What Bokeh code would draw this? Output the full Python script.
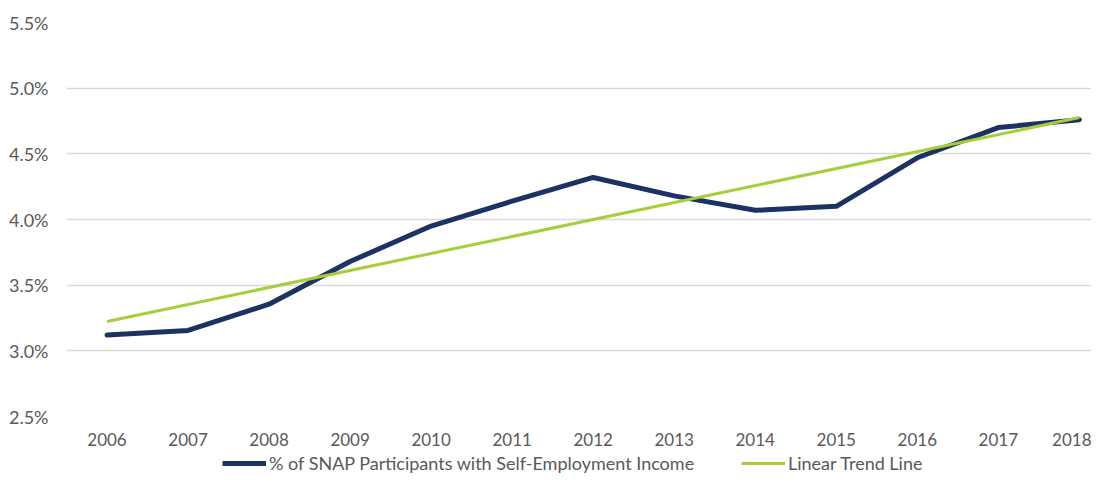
from bokeh.plotting import figure
from bokeh.layouts import column
from bokeh.models import Range1d, FixedTicker, Legend, LegendItem, PrintfTickFormatter
from bokeh.embed import file_html
from bokeh.resources import INLINE

years = [2006, 2007, 2008, 2009, 2010, 2011, 2012, 2013, 2014, 2015, 2016, 2017, 2018]
snap_pct = [3.12, 3.155, 3.355, 3.68, 3.95, 4.14, 4.32, 4.18, 4.07, 4.10, 4.47, 4.70, 4.76]
trend_years = [2006, 2018]
trend_pct = [3.224, 4.776]
y_ticks = [2.5, 3.0, 3.5, 4.0, 4.5, 5.0, 5.5]
series_label = "% of SNAP Participants with Self-Employment Income"
trend_label = "Linear Trend Line"

FONT = "Lato"
TXT = "#595959"
NAVY = "#1c3262"
GREEN = "#a7cd3a"

p = figure(width=1091, height=452, output_backend="svg", toolbar_location=None,
           x_range=Range1d(2005.5, 2018.15), y_range=Range1d(2.5, 5.5),
           min_border_left=66, min_border_right=0, min_border_top=22, min_border_bottom=36)
p.outline_line_color = None
p.background_fill_color = "white"

p.xgrid.grid_line_color = None
p.ygrid.grid_line_color = "#d9d9d9"
p.ygrid.grid_line_width = 1.5
p.ygrid.ticker = FixedTicker(ticks=y_ticks)

p.yaxis.ticker = FixedTicker(ticks=y_ticks)
p.yaxis.formatter = PrintfTickFormatter(format="%.1f%%")
p.xaxis.ticker = FixedTicker(ticks=years)
for ax in (p.xaxis, p.yaxis):
    ax.axis_line_color = None
    ax.major_tick_line_color = None
    ax.minor_tick_line_color = None
    ax.major_tick_out = 0
    ax.major_tick_in = 0
    ax.minor_tick_out = 0
    ax.minor_tick_in = 0
    ax.major_label_text_font = FONT
    ax.major_label_text_color = TXT
p.xaxis.major_label_text_font_size = "17px"
p.yaxis.major_label_text_font_size = "18px"
p.yaxis.major_label_standoff = 18
p.xaxis.major_label_standoff = 16

p.line(years, snap_pct, line_color=NAVY, line_width=5, line_join="round", line_cap="round")
p.line(trend_years, trend_pct, line_color=GREEN, line_width=3)

# legend strip below the chart (keys are drawn from off-range sample lines)
lg = figure(width=1091, height=23, output_backend="svg", toolbar_location=None,
            x_range=Range1d(0, 1), y_range=Range1d(0, 1), min_border=0,
            min_border_left=66, min_border_right=0)
lg.outline_line_color = None
lg.axis.visible = False
lg.grid.visible = False
k1 = lg.line(x=[0, 1], y=[5, 5], line_color=NAVY, line_width=5)
k2 = lg.line(x=[0, 1], y=[5, 5], line_color=GREEN, line_width=3)

common = dict(orientation="horizontal", label_text_font=FONT, label_text_font_size="18px",
              label_text_color=TXT, glyph_width=44, glyph_height=20, label_standoff=3,
              padding=0, margin=0, border_line_color=None, background_fill_alpha=0)
leg1 = Legend(items=[LegendItem(label=series_label, renderers=[k1])], location=(156, 1), **common)
leg2 = Legend(items=[LegendItem(label=trend_label, renderers=[k2])], location=(675, 1), **common)
lg.add_layout(leg1, "center")
lg.add_layout(leg2, "center")

layout = column(p, lg, spacing=0)
open("out.html", "w").write(file_html(layout, INLINE))
